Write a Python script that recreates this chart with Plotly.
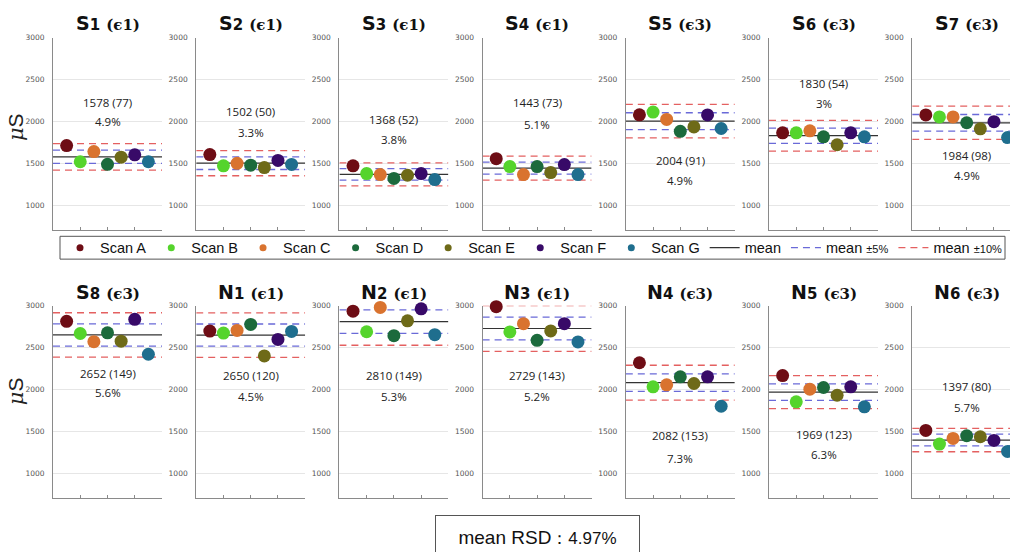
import plotly.graph_objects as go

# ---------------- data ----------------
panel_names = ["S1", "S2", "S3", "S4", "S5", "S6", "S7",
               "S8", "N1", "N2", "N3", "N4", "N5", "N6"]
panel_eps = ["1", "1", "1", "1", "3", "3", "3",
             "3", "1", "1", "1", "3", "3", "3"]

scan_names = ["Scan A", "Scan B", "Scan C", "Scan D", "Scan E", "Scan F", "Scan G"]
scan_x = [1, 2, 3, 4, 5, 6, 7]

s1 = [1712, 1519, 1641, 1488, 1574, 1602, 1519]
s2 = [1605, 1470, 1500, 1478, 1450, 1535, 1487]
s3 = [1470, 1378, 1366, 1320, 1358, 1378, 1306]
s4 = [1556, 1461, 1366, 1461, 1390, 1485, 1366]
s5 = [2080, 2112, 2025, 1882, 1935, 2078, 1916]
s6 = [1864, 1864, 1888, 1817, 1722, 1864, 1817]
s7 = [2078, 2055, 2055, 1985, 1912, 1998, 1808]
s8 = [2815, 2669, 2571, 2677, 2578, 2838, 2421]
n1 = [2698, 2674, 2706, 2778, 2401, 2599, 2694]
n2 = [2936, 2690, 2980, 2643, 2821, 2964, 2655]
n3 = [2990, 2688, 2786, 2588, 2700, 2786, 2568]
n4 = [2320, 2032, 2056, 2152, 2072, 2152, 1800]
n5 = [2167, 1853, 2004, 2024, 1932, 2032, 1793]
n6 = [1512, 1349, 1416, 1448, 1436, 1392, 1261]
panel_values = [s1, s2, s3, s4, s5, s6, s7, s8, n1, n2, n3, n4, n5, n6]

panel_mean = [1578, 1502, 1368, 1443, 2004, 1830, 1984,
              2652, 2650, 2810, 2729, 2082, 1969, 1397]
panel_sd = [77, 50, 52, 73, 91, 54, 98,
            149, 120, 149, 143, 153, 123, 80]
panel_rsd = ["4.9%", "3.3%", "3.8%", "5.1%", "4.9%", "3%", "4.9%",
             "5.6%", "4.5%", "5.3%", "5.2%", "7.3%", "6.3%", "5.7%"]
mean_rsd = "4.97%"

y_ticks = [1000, 1500, 2000, 2500, 3000]

# label placement (data units) for the "mean (sd)" / "rsd" texts
label_y1 = [2225, 2121, 2021, 2225, 1537, 2455, 1596,
            2190, 2162, 2162, 2162, 1455, 1468, 2036]
label_y2 = [2000, 1872, 1785, 1970, 1300, 2219, 1352,
            1960, 1920, 1913, 1913, 1181, 1221, 1789]

# ---------------- style ----------------
colors = ["#6e0d15", "#55d42c", "#d9732f", "#1c6a3c", "#6e6a18", "#380a68", "#1f6e8e"]
c_mean = "#333333"
c_5 = "#6a6ad8"
c_10 = "#e46060"

W, H = 1010, 552
px_unit = 109 / 8.0

fig = go.Figure()

layout_axes = {}
annotations = []

for i, name in enumerate(panel_names):
    row = i // 7
    col = i % 7
    k = i + 1
    xa = "x" if k == 1 else f"x{k}"
    ya = "y" if k == 1 else f"y{k}"
    x0 = 53 + 143.2 * col
    if col == 6:
        x1 = W
    else:
        x1 = x0 + 109
    xmax = (x1 - x0) / px_unit
    if row == 0:
        ytop, ybot = 34, 228
    else:
        ytop, ybot = 304, 498
    dom_x = [x0 / W, x1 / W]
    dom_y = [1 - ybot / H, 1 - ytop / H]

    layout_axes[f"xaxis{'' if k == 1 else k}"] = dict(
        domain=dom_x, range=[0, xmax], anchor=ya,
        showgrid=False, zeroline=False, showline=True, linecolor="#8a8a8a", linewidth=1,
        tickvals=[0, 2, 4, 6, 8], ticks="inside", ticklen=3, tickcolor="#8a8a8a",
        showticklabels=False, fixedrange=True)
    layout_axes[f"yaxis{'' if k == 1 else k}"] = dict(
        domain=dom_y, range=[700, 3000], anchor=xa,
        showgrid=True, gridcolor="#e6e6e6", gridwidth=1, zeroline=False,
        showline=True, linecolor="#8a8a8a", linewidth=1,
        tickvals=y_ticks, ticks="", ticklabelstandoff=6,
        tickfont=dict(size=7.5, color="#555555", family="DejaVu Sans"),
        fixedrange=True)

    m = panel_mean[i]
    # reference lines
    for frac, col_l in [(0.10, c_10), (-0.10, c_10), (0.05, c_5), (-0.05, c_5)]:
        fig.add_trace(go.Scatter(x=[0, 8], y=[m * (1 + frac)] * 2, mode="lines",
                                 line=dict(color=col_l, width=1.3, dash="7px,5px"),
                                 xaxis=xa, yaxis=ya, showlegend=False, hoverinfo="skip"))
    fig.add_trace(go.Scatter(x=[0, 8], y=[m, m], mode="lines",
                             line=dict(color=c_mean, width=1.2),
                             xaxis=xa, yaxis=ya, showlegend=False, hoverinfo="skip"))
    # scans
    for j in range(7):
        fig.add_trace(go.Scatter(x=[scan_x[j]], y=[panel_values[i][j]], mode="markers",
                                 marker=dict(color=colors[j], size=13, line=dict(width=0)),
                                 xaxis=xa, yaxis=ya, showlegend=False, cliponaxis=False,
                                 name=scan_names[j]))

    # title
    tcx = (x0 + x0 + 109) / 2 / W
    annotations.append(dict(
        text=f"<b>{name[0]}<span style='font-size:15px'>{name[1]}</span></b>"
             f" <b><span style='font-family:DejaVu Serif;font-size:15px'>(ϵ{panel_eps[i]})</span></b>",
        xref="paper", yref="paper", x=tcx, y=1 - (19 if row == 0 else 290) / H,
        xanchor="center", yanchor="middle", showarrow=False,
        font=dict(size=19, family="DejaVu Sans", color="#111111")))
    # mean / rsd labels
    annotations.append(dict(text=f"{m} ({panel_sd[i]})", xref=xa, yref=ya, x=4, y=label_y1[i],
                            showarrow=False, font=dict(size=11.5, family="Open Sans", color="#222222")))
    annotations.append(dict(text=panel_rsd[i], xref=xa, yref=ya, x=4, y=label_y2[i],
                            showarrow=False, font=dict(size=11.5, family="Open Sans", color="#222222")))

# y-axis titles
for yc in [124, 390]:
    annotations.append(dict(
        text="<i><span style='font-family:DejaVu Serif'>μ</span></i>S",
        xref="paper", yref="paper", x=16 / W, y=1 - yc / H, textangle=-90,
        xanchor="center", yanchor="middle",
        showarrow=False, font=dict(size=21, family="Liberation Sans", color="#222222")))

# mean RSD box
annotations.append(dict(
    text=f"mean RSD<span style='font-size:17px'>：{mean_rsd}</span>",
    xref="paper", yref="paper", x=537 / W, y=1 - 515 / H, xanchor="center", yanchor="top",
    showarrow=False, width=201, height=40, bordercolor="#555555", borderwidth=1,
    bgcolor="white", font=dict(size=19, family="Liberation Sans", color="#111111")))

# legend frame
shapes = [dict(type="rect", xref="paper", yref="paper",
               x0=60 / W, x1=1005 / W, y0=1 - 257 / H, y1=1 - 234 / H,
               line=dict(color="#555555", width=1), fillcolor="rgba(0,0,0,0)", layer="above")]

# legend-only traces
for j in range(7):
    fig.add_trace(go.Scatter(x=[None], y=[None], mode="markers", name=scan_names[j],
                             marker=dict(color=colors[j], size=7)))
fig.add_trace(go.Scatter(x=[None], y=[None], mode="lines", name="mean",
                         line=dict(color=c_mean, width=1.2)))
fig.add_trace(go.Scatter(x=[None], y=[None], mode="lines",
                         name="mean <span style='font-size:11px'>±5%</span>",
                         line=dict(color=c_5, width=1.3, dash="7px,5px")))
fig.add_trace(go.Scatter(x=[None], y=[None], mode="lines",
                         name="mean <span style='font-size:11px'>±10%</span>",
                         line=dict(color=c_10, width=1.3, dash="7px,5px")))

fig.update_layout(
    width=W, height=H, margin=dict(l=0, r=0, t=0, b=0),
    paper_bgcolor="white", plot_bgcolor="white",
    showlegend=True,
    legend=dict(orientation="h", x=60 / W, xanchor="left", y=1 - 245.5 / H, yanchor="middle",
                borderwidth=0, bgcolor="rgba(0,0,0,0)",
                font=dict(size=14.5, family="Liberation Sans", color="#111111"),
                itemwidth=30, tracegroupgap=0),
    annotations=annotations,
    shapes=shapes,
    **layout_axes,
)

fig.write_html("out.html")
